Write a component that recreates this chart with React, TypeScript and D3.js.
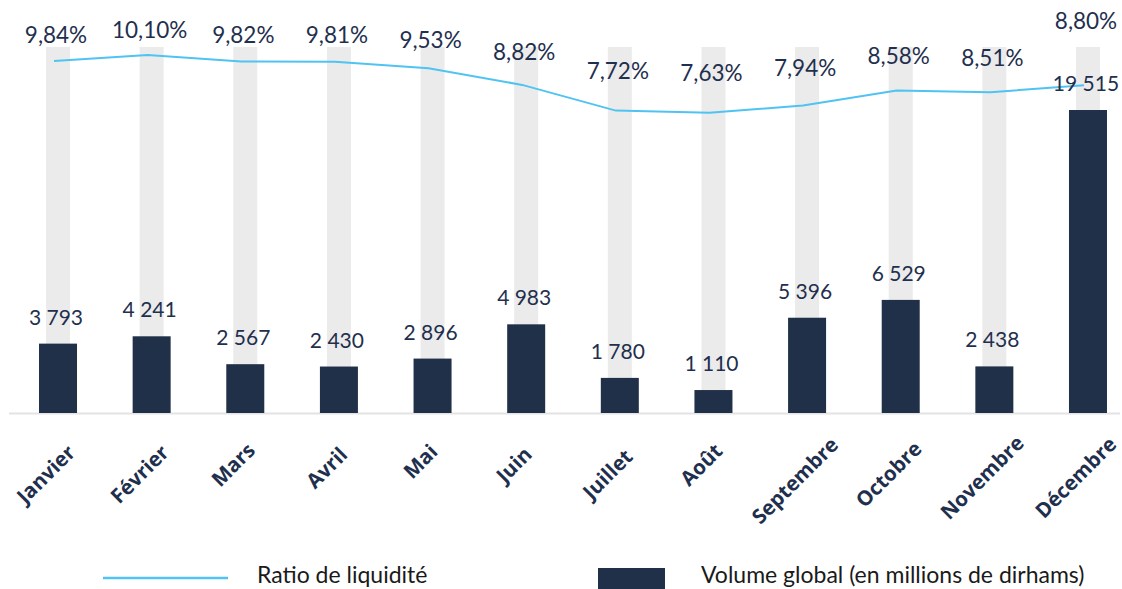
import React from "react";
import * as d3 from "d3";

const months = ["Janvier", "Février", "Mars", "Avril", "Mai", "Juin", "Juillet", "Août", "Septembre", "Octobre", "Novembre", "Décembre"];
const volume = [3793, 4241, 2567, 2430, 2896, 4983, 1780, 1110, 5396, 6529, 2438, 19515];
const ratio = [9.84, 10.10, 9.82, 9.81, 9.53, 8.82, 7.72, 7.63, 7.94, 8.58, 8.51, 8.80];
const legendLabels = ["Ratio de liquidité", "Volume global (en millions de dirhams)"];

const W = 1122, H = 589;
const BASE = 413;
const TOP = 47;
const NAVY = "#213049";
const TEXT = "#1f2f4e";
const LINE = "#4fc3f1";
const GRAY = "#ebebeb";

const fmtVol = (v: number) => d3.format(",")(v).replace(/,/g, " ");
const fmtPct = (v: number) => v.toFixed(2).replace(".", ",") + "%";

export default function App() {
  const x = d3.scaleBand<string>().domain(months).range([11.2, 1134.8]).padding(0);
  const cx = (m: string) => (x(m) as number) + x.bandwidth() / 2;
  const y = d3.scalePow().exponent(0.9).domain([0, 19515]).range([BASE, 110]);
  const yr = d3.scaleLinear().domain([7.63, 10.10]).range([112.7, 55]);
  const yLab = d3.scaleLinear().domain([7.63, 10.10]).range([81, 38]);

  const line = d3.line<number>()
    .x((_, i) => cx(months[i]) - 4)
    .y((d) => yr(d))
    .curve(d3.curveLinear);

  const font = "Lato, 'Open Sans', sans-serif";
  const last = months.length - 1;

  return (
    <svg width={W} height={H} style={{ position: "absolute", left: 0, top: 0, background: "#fff" }} fontFamily={font}>
      {months.map((m) => (
        <rect key={"bg" + m} x={cx(m) - 12} y={TOP} width={24} height={BASE - TOP} fill={GRAY} />
      ))}
      <line x1={9} x2={1120} y1={BASE + 0.5} y2={BASE + 0.5} stroke="#e3e3e3" strokeWidth={2} />
      {months.map((m, i) => (
        <rect key={"b" + m} x={cx(m) - 19} y={y(volume[i])} width={38} height={BASE - y(volume[i])} fill={NAVY} />
      ))}
      <path d={line(ratio) as string} fill="none" stroke={LINE} strokeWidth={2} />
      {months.map((m, i) => (
        <text key={"vl" + m} x={cx(m) - 2} y={y(volume[i]) - 19} textAnchor="middle" fontSize={21} fill={TEXT}>
          {fmtVol(volume[i])}
        </text>
      ))}
      {months.map((m, i) => (
        <text key={"rl" + m} x={cx(m) - 2} y={i === last ? TOP - 18 : yLab(ratio[i])} textAnchor="middle" fontSize={22.5} fill={TEXT}>
          {fmtPct(ratio[i])}
        </text>
      ))}
      {months.map((m) => (
        <text key={"xl" + m} transform={`translate(${cx(m) - 7},${457 + 3.2 * m.length}) rotate(-45)`} textAnchor="middle"
          fontSize={20.5} fontWeight={700} fill={TEXT} fontFamily="'Open Sans', sans-serif">
          {m}
        </text>
      ))}
      <line x1={103} x2={228} y1={578} y2={578} stroke={LINE} strokeWidth={2.5} />
      <text x={257} y={583} fontSize={23} fill="#1a1a1a">{legendLabels[0]}</text>
      <rect x={598} y={568} width={67} height={21} fill={NAVY} />
      <text x={701} y={583} fontSize={23} fill="#1a1a1a">{legendLabels[1]}</text>
    </svg>
  );
}
